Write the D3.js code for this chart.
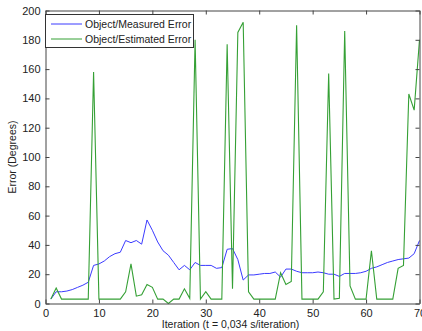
<!DOCTYPE html>
<html><head><meta charset="utf-8">
<script src="https://cdn.jsdelivr.net/npm/d3@7"></script>
<style>body{margin:0;background:#fff}svg{display:block}text{font-family:"Liberation Sans",Arial,sans-serif}</style>
</head><body>
<svg id="c" width="422" height="331"></svg>
<script>
const iterations = d3.range(1, 71);
const measuredError = [3,8,8,8.5,9.5,11,12.5,14.5,26,27,29,32,34,35,43,41.5,43,40.5,57,50,42,36,33,28,23,26,23,28,26,26,26,24,24.5,37,37.5,30,16,19.5,19.5,20,20.5,20.5,21.5,18,23.5,23.5,22,21,21,21,21.5,21,20,20,18.5,20.5,20.5,20.5,21,22,24,25,26.5,28,29,30,30.5,31,34,43];
const estimatedError = [3,10.5,3,3,3,3,3,3,158,3,3,3,3,3,8,27,5,6,13,11,3,3,0,3,3,10,3.5,180,3,8,3,3,3,177,10,185,192,8,3,3,3,3,3,21,13,15,190,3,3,3,3,8,157,3,3.5,186,12,3,3,3,36,3,3,3,3,24,26,143,132,180];
const xTicks = [0,10,20,30,40,50,60,70];
const yTicks = [0,20,40,60,80,100,120,140,160,180,200];
const seriesNames = ["Object/Measured Error","Object/Estimated Error"];
const seriesColors = ["#3b3bff","#35a035"];

const svg = d3.select("#c");
const L=45.5, R=419.5, T=10.5, B=303.5;
const x = d3.scaleLinear().domain([0,70]).range([L,R]);
const y = d3.scaleLinear().domain([0,200]).range([B,T]);
const axisCol="#444";

svg.append("rect").attr("x",L).attr("y",T).attr("width",R-L).attr("height",B-T).attr("fill","#fff");

const line = d3.line().x((d,i)=>x(iterations[i])).y(d=>y(d));
svg.append("path").datum(measuredError).attr("d",line).attr("fill","none").attr("stroke",seriesColors[0]).attr("stroke-width",1);
svg.append("path").datum(estimatedError).attr("d",line).attr("fill","none").attr("stroke",seriesColors[1]).attr("stroke-width",1.1);

// axes
const xb = svg.append("g").attr("transform",`translate(0,${B})`).call(d3.axisBottom(x).tickValues(xTicks).tickSizeInner(-4).tickSizeOuter(0).tickPadding(6));
const xt = svg.append("g").attr("transform",`translate(0,${T})`).call(d3.axisTop(x).tickValues(xTicks).tickSizeInner(-4).tickSizeOuter(0).tickFormat(""));
const yl = svg.append("g").attr("transform",`translate(${L},0)`).call(d3.axisLeft(y).tickValues(yTicks).tickSizeInner(-4).tickSizeOuter(0).tickPadding(5));
const yr = svg.append("g").attr("transform",`translate(${R},0)`).call(d3.axisRight(y).tickValues(yTicks).tickSizeInner(-4).tickSizeOuter(0).tickFormat(""));
[xb,xt,yl,yr].forEach(g=>{
  g.select(".domain").attr("stroke",axisCol);
  g.selectAll(".tick line").attr("stroke",axisCol);
  g.selectAll(".tick text").attr("fill","#222").attr("font-size","11px").attr("font-family","Liberation Sans, Arial, sans-serif");
});

// legend
const lg = svg.append("g");
lg.append("rect").attr("x",L).attr("y",14.5).attr("width",148).attr("height",33).attr("fill","#fff").attr("stroke","#333").attr("stroke-width",1);
seriesNames.forEach((n,i)=>{
  const yy = 24 + i*15;
  lg.append("line").attr("x1",51).attr("x2",82).attr("y1",yy).attr("y2",yy).attr("stroke",seriesColors[i]).attr("stroke-width",1);
  lg.append("text").attr("x",85).attr("y",yy+4).attr("font-size","10.5px").attr("fill","#222").text(n);
});

// labels
svg.append("text").attr("x",(L+R)/2 - 2).attr("y",328).attr("text-anchor","middle").attr("font-size","10.5px").attr("fill","#222").text("Iteration (t = 0,034 s/iteration)");
svg.append("text").attr("transform",`translate(16,${(T+B)/2}) rotate(-90)`).attr("text-anchor","middle").attr("font-size","10.5px").attr("fill","#222").text("Error (Degrees)");
</script>
</body></html>
